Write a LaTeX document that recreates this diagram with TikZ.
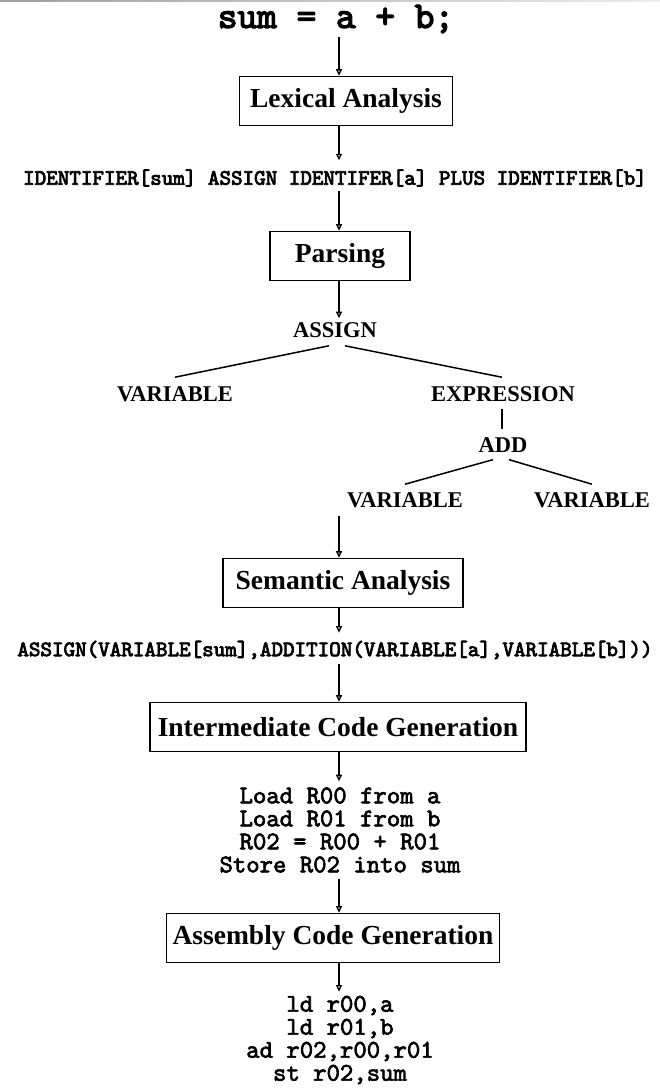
\documentclass[tikz,border=0pt]{standalone}
\usepackage{fontspec}
\setmainfont{Liberation Serif}
\newfontfamily\heavymono{lmmono10-regular.otf}[FakeBold=3.5]
\newfontfamily\midmono{lmmono10-regular.otf}[FakeBold=2.5]
\usetikzlibrary{arrows.meta}
\begin{document}
\begin{tikzpicture}[x=1pt,y=-1pt,
  phase/.style={draw, line width=1.6pt, minimum height=49pt, inner sep=0pt,
    font=\fontsize{27.5}{30}\selectfont\bfseries},
  srcline/.style={font=\heavymono\fontsize{37.5}{40}\selectfont, inner sep=0pt},
  tok/.style={font=\heavymono\fontsize{22}{24}\selectfont, inner sep=0pt},
  code/.style={font=\midmono\fontsize{25.5}{23}\selectfont, align=center, inner sep=0pt},
  tree/.style={font=\fontsize{22.5}{24}\selectfont\bfseries, inner sep=0pt},
  flow/.style={line width=1.5pt, -{Triangle[open,length=6.5pt,width=6pt,line width=1.3pt]}},
  branch/.style={line width=1.5pt},
]
\useasboundingbox (0,0) rectangle (660,1088);
\shade[left color=gray!75, right color=gray!15] (0,0) rectangle (660,1.5);

% column of the flow arrows
\coordinate (ax) at (339,0);

% source statement and lexer
\node[srcline] (src) at (336,19) {sum = a + b;};
\node[phase, minimum width=213pt] (lex) at (346,101) {Lexical Analysis};
\node[tok] (tokens) at (335,178) {IDENTIFIER[sum] ASSIGN IDENTIFER[a] PLUS IDENTIFIER[b]};

% parser and syntax tree
\node[phase, minimum width=140pt] (parse) at (340,256) {Parsing};
\node[tree] (assign) at (335,330) {ASSIGN};
\node[tree] (var1) at (175,394) {VARIABLE};
\node[tree] (expr) at (503,394) {EXPRESSION};
\node[tree] (add) at (503,445) {ADD};
\node[tree] (var2) at (405,500) {VARIABLE};
\node[tree] (var3) at (592,500) {VARIABLE};

% semantic analysis
\node[phase, minimum width=240pt] (sem) at (343,583) {Semantic Analysis};
\node[tok] (ast) at (335,650) {ASSIGN(VARIABLE[sum],ADDITION(VARIABLE[a],VARIABLE[b]))};

% intermediate code
\node[phase, minimum width=376pt] (inter) at (338,727) {Intermediate Code Generation};
\node[code] (ir) at (340,830) {Load R00 from a\\Load R01 from b\\R02 = R00 + R01\\Store R02 into sum};

% assembly
\node[phase, minimum width=333pt] (asm) at (333,938) {Assembly Code Generation};
\node[code] (out) at (340,1040) {ld r00,a\\ld r01,b\\ad r02,r00,r01\\st r02,sum};

% flow arrows
\draw[flow, shorten <=4pt] (src.south -| ax) -- (lex.north -| ax);
\draw[flow, shorten >=9pt] (lex.south -| ax) -- (tokens.north -| ax);
\draw[flow, shorten <=4pt] (tokens.south -| ax) -- (parse.north -| ax);
\draw[flow, shorten >=4pt] (parse.south -| ax) -- (assign.north -| ax);
\draw[flow, shorten <=8pt] (var2.south -| ax) -- (sem.north -| ax);
\draw[flow, shorten >=8pt] (sem.south -| ax) -- (ast.north -| ax);
\draw[flow, shorten <=5pt] (ast.south -| ax) -- (inter.north -| ax);
\draw[flow, shorten >=6pt] (inter.south -| ax) -- (ir.north -| ax);
\draw[flow, shorten <=6pt] (ir.south -| ax) -- (asm.north -| ax);
\draw[flow, shorten >=4pt] (asm.south -| ax) -- (out.north -| ax);

% tree branches
\draw[branch] ([xshift=-6pt,yshift=-8pt]assign.south) -- ([yshift=9pt]var1.north);
\draw[branch] ([xshift=10pt,yshift=-8pt]assign.south) -- ([xshift=-1pt,yshift=9pt]expr.north);
\draw[branch] ([xshift=-1pt,yshift=-7pt]expr.south) -- ([xshift=-1pt,yshift=8pt]add.north);
\draw[branch] ([xshift=-10pt,yshift=-7pt]add.south) -- ([yshift=8pt]var2.north);
\draw[branch] ([xshift=6pt,yshift=-7pt]add.south) -- ([yshift=8pt]var3.north);
\end{tikzpicture}
\end{document}
